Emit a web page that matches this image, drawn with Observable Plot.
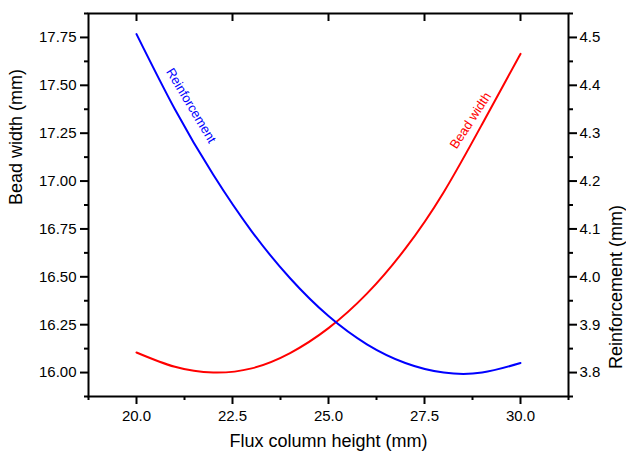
<!DOCTYPE html>
<html><head><meta charset="utf-8">
<script src="https://cdn.jsdelivr.net/npm/d3@7"></script>
<script src="https://cdn.jsdelivr.net/npm/@observablehq/plot@0.6"></script>
<style>html,body{margin:0;padding:0;background:#fff;}</style>
</head><body><div id="chart"></div>
<script>
const fluxHeight = [20, 21, 22, 23, 24, 25, 26, 27, 28, 29, 30];
const beadWidth = [16.105, 16.030, 16.000, 16.022, 16.102, 16.232, 16.412, 16.647, 16.942, 17.297, 17.664];
const reinforcement = [4.507, 4.350, 4.213, 4.095, 3.997, 3.918, 3.859, 3.820, 3.800, 3.800, 3.820];

const xTicks = [20, 22.5, 25, 27.5, 30];
const xMinor = [18.75, 21.25, 23.75, 26.25, 28.75, 31.25];
const bwTicks = [16, 16.25, 16.5, 16.75, 17, 17.25, 17.5, 17.75];
const bwMinor = [15.875, 16.125, 16.375, 16.625, 16.875, 17.125, 17.375, 17.625, 17.875];
const rfTicks = [3.8, 3.9, 4.0, 4.1, 4.2, 4.3, 4.4, 4.5];
const rfMinor = [3.75, 3.85, 3.95, 4.05, 4.15, 4.25, 4.35, 4.45, 4.55];
const xDomain = [18.75, 31.25];
const bwDomain = [15.875, 17.875];
const rfDomain = [3.75, 4.55];

const xTitle = "Flux column height (mm)";
const bwTitle = "Bead width (mm)";
const rfTitle = "Reinforcement (mm)";
const seriesLabels = ["Reinforcement", "Bead width"];
const labelX = [21.42, 28.70];
const labelBw = [17.394, 17.316];
const labelRotate = [59, -57];
const colors = ["#0000ff", "#ff0000"];

// map reinforcement values onto the bead-width (left) scale
const rfToBw = r => bwDomain[0] + (r - rfDomain[0]) * (bwDomain[1] - bwDomain[0]) / (rfDomain[1] - rfDomain[0]);
const bwToRf = b => rfDomain[0] + (b - bwDomain[0]) * (rfDomain[1] - rfDomain[0]) / (bwDomain[1] - bwDomain[0]);

const rows = fluxHeight.map((x, i) => ({x, bw: beadWidth[i], rf: rfToBw(reinforcement[i])}));
const labels = seriesLabels.map((t, i) => ({t, x: labelX[i], y: labelBw[i], r: labelRotate[i], c: colors[i]}));

const font = "'Liberation Sans', Arial, Helvetica, sans-serif";
const blank = () => "";

const chart = Plot.plot({
  width: 626, height: 461,
  marginLeft: 88, marginRight: 58, marginTop: 13, marginBottom: 65,
  x: {domain: xDomain},
  y: {domain: bwDomain},
  style: {fontFamily: font, fontSize: "15px", color: "#000", background: "#fff"},
  marks: [
    Plot.line(rows, {x: "x", y: "bw", stroke: colors[1], strokeWidth: 2, curve: "natural"}),
    Plot.line(rows, {x: "x", y: "rf", stroke: colors[0], strokeWidth: 2, curve: "natural"}),
    Plot.text(labels, {x: "x", y: "y", text: "t", rotate: "r", fill: "c", fontSize: 13}),
    // bottom axis
    Plot.axisX({anchor: "bottom", ticks: xTicks, tickFormat: d => d.toFixed(1), tickSize: 8, tickPadding: 6, strokeWidth: 2, fontSize: 15, label: null}),
    Plot.axisX({anchor: "bottom", ticks: xMinor, tickFormat: blank, tickSize: 4, strokeWidth: 2, label: null}),
    // top axis (inward ticks)
    Plot.axisX({anchor: "top", ticks: xTicks, tickFormat: blank, tickSize: -7, strokeWidth: 2, label: null}),
    // left axis
    Plot.axisY({anchor: "left", ticks: bwTicks, tickFormat: d => d.toFixed(2), tickSize: 8, tickPadding: 4, strokeWidth: 2, fontSize: 15, label: null}),
    Plot.axisY({anchor: "left", ticks: bwMinor, tickFormat: blank, tickSize: 4, strokeWidth: 2, label: null}),
    // right axis (reinforcement)
    Plot.axisY({anchor: "right", ticks: rfTicks.map(rfToBw), tickFormat: d => bwToRf(d).toFixed(1), tickSize: 8, tickPadding: 3, strokeWidth: 2, fontSize: 15, label: null}),
    Plot.axisY({anchor: "right", ticks: rfMinor.map(rfToBw), tickFormat: blank, tickSize: 4, strokeWidth: 2, label: null}),
    Plot.frame({stroke: "#000", strokeWidth: 2}),
    // axis titles
    Plot.text([xTitle], {text: d => d, frameAnchor: "bottom", dy: 50, fontSize: 18}),
    Plot.text([bwTitle], {text: d => d, frameAnchor: "left", dx: -72, rotate: -90, fontSize: 18}),
    Plot.text([rfTitle], {text: d => d, frameAnchor: "right", dx: 48, rotate: -90, fontSize: 18})
  ]
});
document.getElementById("chart").appendChild(chart);
</script>
</body></html>
